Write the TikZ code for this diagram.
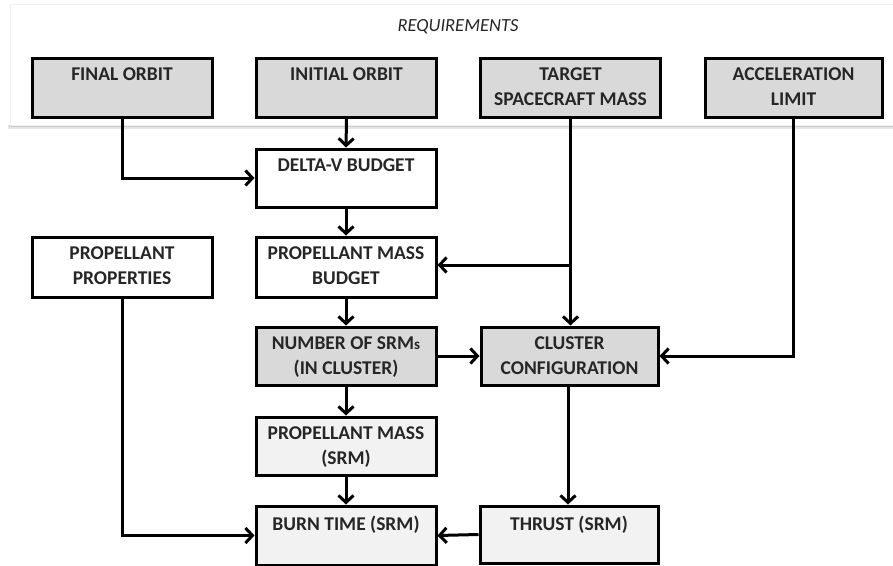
\documentclass[tikz,border=0pt]{standalone}
\usepackage{fontspec}
\setmainfont{Carlito}
\usetikzlibrary{arrows.meta,positioning}
\definecolor{txt}{HTML}{262626}
\definecolor{darkfill}{HTML}{D9D9D9}
\definecolor{lightfill}{HTML}{F2F2F2}
\tikzset{
  box/.style={draw=black, line width=3pt, minimum width=180pt, minimum height=59pt, inner sep=0pt},
  dark/.style={box, fill=darkfill},
  light/.style={box, fill=lightfill},
  plain/.style={box, fill=white},
  lbl/.style={anchor=north, yshift=-11pt, align=center, text=txt, font=\fontsize{19.5}{25}\selectfont\bfseries, inner sep=0pt},
  arr/.style={line width=3pt, -{Straight Barb[length=7pt,width=15pt,line width=3pt]}},
  ln/.style={line width=3pt}
}
\begin{document}
\begin{tikzpicture}[x=1pt,y=-1pt]
\useasboundingbox (0,0) rectangle (893,565);
\fill[white] (0,0) rectangle (893,565);
% requirements panel with shadow
\fill[gray!20] (8,125) rectangle (893,129);
\fill[gray!40] (9,125) rectangle (893,127);
\draw[gray!12, fill=white] (10,4) rectangle (895,125);
\node[text=txt, font=\fontsize{18.5}{21}\selectfont\itshape, inner sep=0pt] (req) at (458,27) {REQUIREMENTS};

% boxes
\node[dark] (final) at (122,87.5) {};
\node[dark] (initial) at (346.5,87.5) {};
\node[dark] (target) at (570.5,87.5) {};
\node[dark, minimum width=177pt] (accel) at (793.5,87.5) {};
\node[plain, minimum height=58pt] (deltav) at (346,178) {};
\node[plain, minimum height=60pt] (propprop) at (122,267) {};
\node[plain, minimum height=60pt] (pmb) at (346,267) {};
\node[dark, minimum height=58pt] (nsrm) at (346,356) {};
\node[dark, minimum width=177pt, minimum height=58pt] (cluster) at (569.5,356) {};
\node[light, minimum height=58pt] (pmsrm) at (346,446) {};
\node[light, minimum height=59pt] (burn) at (346,535.5) {};
\node[light, minimum width=178pt, minimum height=57pt] (thrust) at (569,534.5) {};

% labels
\node[lbl] (finalT) at (final.north) {FINAL ORBIT};
\node[lbl] (initialT) at (initial.north) {INITIAL ORBIT};
\node[lbl] (targetT) at (target.north) {TARGET\\SPACECRAFT MASS};
\node[lbl] (accelT) at (accel.north) {ACCELERATION\\LIMIT};
\node[lbl] (deltavT) at (deltav.north) {DELTA-V BUDGET};
\node[lbl] (proppropT) at (propprop.north) {PROPELLANT\\PROPERTIES};
\node[lbl] (pmbT) at (pmb.north) {PROPELLANT MASS\\BUDGET};
\node[lbl] (nsrmT) at (nsrm.north) {NUMBER OF SRM{\fontsize{15}{25}\selectfont s}\\(IN CLUSTER)};
\node[lbl] (clusterT) at (cluster.north) {CLUSTER\\CONFIGURATION};
\node[lbl] (pmsrmT) at (pmsrm.north) {PROPELLANT MASS\\(SRM)};
\node[lbl] (burnT) at (burn.north) {BURN TIME (SRM)};
\node[lbl] (thrustT) at (thrust.north) {THRUST (SRM)};

% connectors
\draw[arr] (final.south) |- (deltav.west);
\draw[arr] (initial.south) -- (deltav.north);
\draw[arr] (target.south) -- (target.south |- cluster.north);
\coordinate (branch) at (target.south |- 0,265);
\draw[arr] (branch) -- (branch -| pmb.east);
\draw[arr] (accel.south) |- (cluster.east);
\draw[arr] (deltav.south) -- (pmb.north);
\draw[arr] (pmb.south) -- (nsrm.north);
\draw[arr] (nsrm.east) -- (cluster.west);
\draw[arr] (nsrm.south) -- (pmsrm.north);
\draw[arr] (pmsrm.south) -- (burn.north);
\draw[arr] (cluster.south -| 568,0) -- (568,0 |- thrust.north);
\draw[arr] (thrust.west) -- (burn.east);
\draw[arr] (propprop.south) |- (burn.west);
\end{tikzpicture}
\end{document}
